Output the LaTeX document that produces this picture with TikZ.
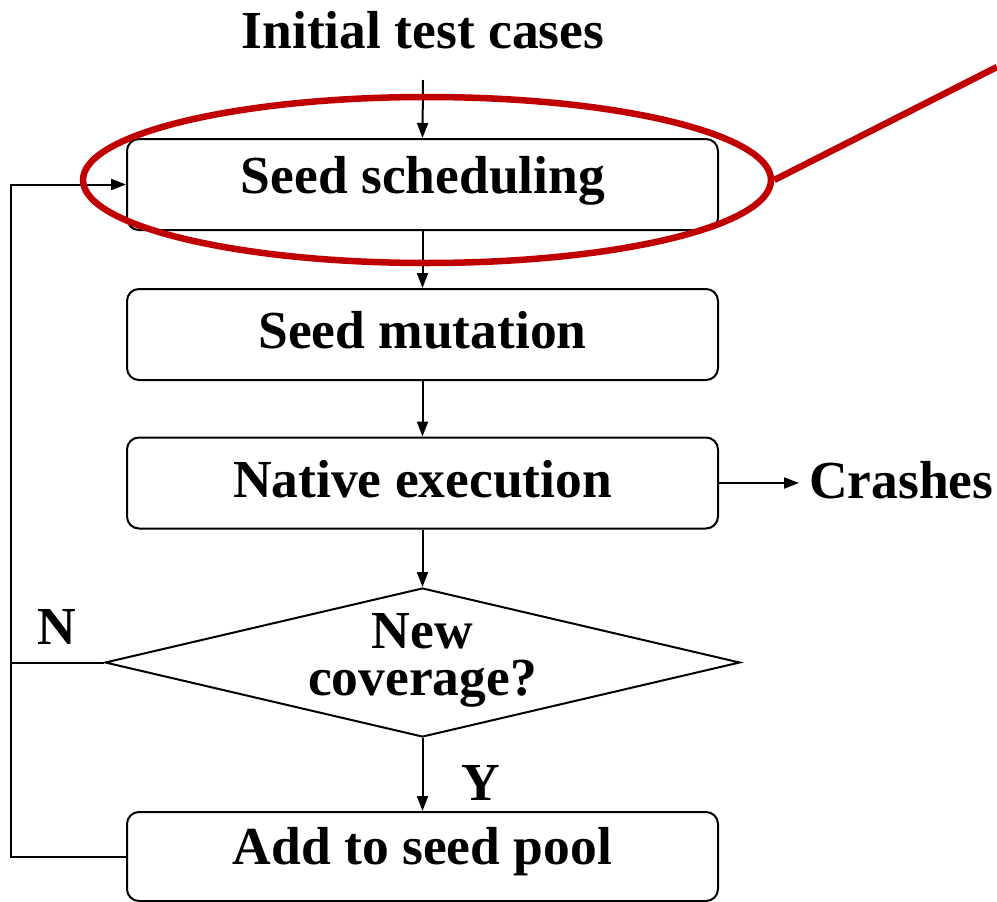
\documentclass[tikz,border=0pt]{standalone}
\usepackage{fontspec}
\setmainfont{Liberation Serif}
\usetikzlibrary{arrows.meta,shapes.geometric}
\definecolor{hlred}{RGB}{192,0,0}
\tikzset{
  box/.style={draw, line width=2pt, rounded corners=12pt, minimum width=591pt, minimum height=91pt, inner sep=0pt},
  lbl/.style={inner sep=0pt, font=\fontsize{53.5}{47}\selectfont\bfseries},
  arr/.style={line width=2pt, -{Triangle[length=15pt,width=11pt]}},
  ln/.style={line width=2pt},
}
\begin{document}
\begin{tikzpicture}[x=1pt,y=-1pt]
\useasboundingbox (0,0) rectangle (997,902);
\node[box] (b1) at (422.5,184.5) {};
\node[lbl] (t1) at (423,181) {Seed scheduling};
\node[box] (b2) at (422.5,334.5) {};
\node[lbl] (t2) at (422.5,330) {Seed mutation};
\node[box] (b3) at (422.5,483) {};
\node[lbl] (t3) at (422.5,479) {Native execution};
\node[draw, diamond, line width=2pt, minimum width=635pt, minimum height=149pt, inner sep=0pt] (d) at (422.5,662.5) {};
\node[lbl, align=center] (dt) at (422.5,660) {New\\coverage?};
\node[box, minimum height=89pt] (b4) at (422.5,856.5) {};
\node[lbl] (t4) at (422.5,852) {Add to seed pool};
\node[lbl] (init) at (423,30) {Initial test cases};
\coordinate (itop) at (423,80);
\node[lbl, anchor=west] (cr) at (809,480) {Crashes};
\coordinate (crin) at (799,483);
\node[lbl] (nl) at (57,627) {N};
\node[lbl] (yl) at (481,783) {Y};
% connectors
\draw[arr] (itop) -- (b1.north);
\draw[arr] (b1.south) -- (b2.north);
\draw[arr] (b2.south) -- (b3.north);
\draw[arr] (b3.south) -- (d.north);
\draw[arr] (d.south) -- (b4.north);
\draw[arr] (b3.east) -- (crin);
\draw[ln] (d.west) -- ++(-93,0);
\draw[arr] (b4.west) -- ++(-115,0) |- (b1.west);
% highlight
\node[draw=hlred, line width=6.5pt, ellipse, minimum width=688pt, minimum height=166pt, inner sep=0pt] (hl) at (427,180) {};
\coordinate (hlend) at (997,67);
\draw[hlred, line width=6.5pt] (hl.east) -- (hlend);
\end{tikzpicture}
\end{document}
